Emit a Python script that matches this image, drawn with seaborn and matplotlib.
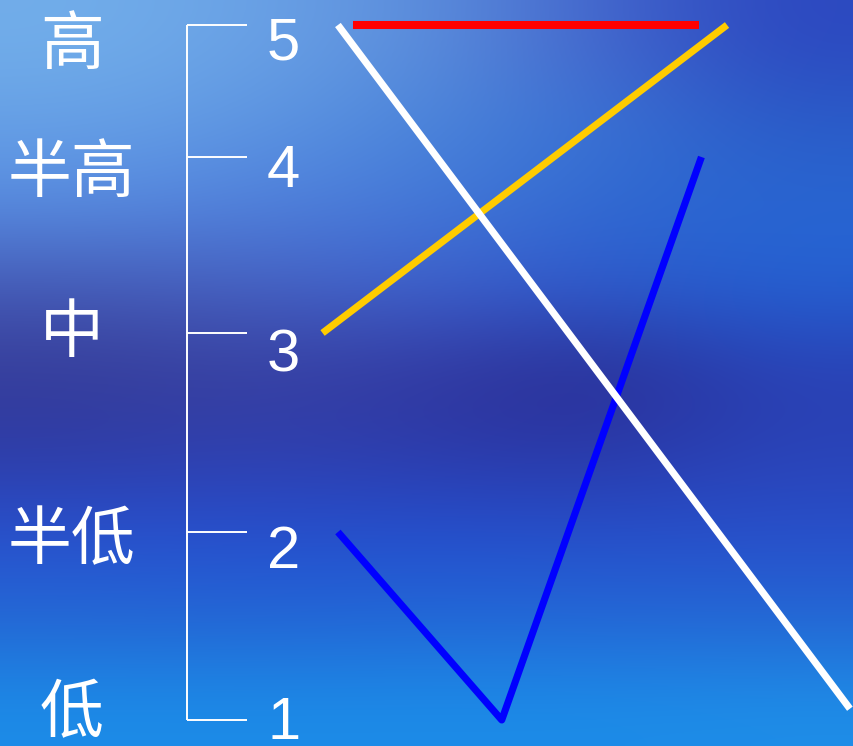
import numpy as np
import pandas as pd
import matplotlib.pyplot as plt
import matplotlib.colors as mcolors
import seaborn as sns

# tone contours (time in % of syllable, pitch level 1-5)
red_t = [3, 70.5]
red_lv = [5, 5]
orange_t = [-3, 76]
orange_lv = [3, 5]
blue_t = [0, 32, 71]
blue_lv = [2, 1, 4]
white_t = [0, 100]
white_lv = [5, 1.06]

levels = [1, 2, 3, 4, 5]
level_names = ["低", "半低", "中", "半高", "高"]

# scale layout: pixel row of each level on the 746 px canvas
level_px = [908, 720, 532, 333, 157, 25, -107]
level_nodes = [0, 1, 2, 3, 4, 5, 6]
name_y = [1.03, 1.955, 2.995, 3.905, 4.845]
digit_y = [0.98, 1.89, 2.885, 3.915, 4.855]

neg_px = [-p for p in level_px]


def fwd(v):
    return np.interp(v, level_nodes, neg_px)


def inv(u):
    return np.interp(u, neg_px, level_nodes)


rows = []
for name, ts, lvs in [("r", red_t, red_lv), ("o", orange_t, orange_lv),
                      ("b", blue_t, blue_lv), ("w", white_t, white_lv)]:
    for t, lv in zip(ts, lvs):
        rows.append({"tone": name, "t": t, "level": lv})
df = pd.DataFrame(rows)

sns.set_theme(style="white")
plt.rcParams["font.family"] = ["Liberation Sans", "Noto Sans CJK SC", "DejaVu Sans"]

fig = plt.figure(figsize=(8.54, 7.46), dpi=100)

# background gradient
bg_cols = [
    ["#72aeea", "#6aa2e6", "#5c8edc", "#4466cc", "#2c48c0"],
    ["#66a0e6", "#5e96e2", "#4a84da", "#3a72d4", "#2a5cc8"],
    ["#568ae0", "#5080dc", "#4478d8", "#3068d0", "#2866d2"],
    ["#4458b4", "#4660c0", "#3e60cc", "#2e58cc", "#2460d2"],
    ["#363c98", "#3840a0", "#3238a0", "#2a2c90", "#2a40b4"],
    ["#2e3ca8", "#3040b0", "#2c3cac", "#2a38a8", "#2a44b8"],
    ["#2852d0", "#2650d0", "#2450d0", "#2650cc", "#2850cc"],
    ["#2468d4", "#2466d4", "#2268d6", "#2468d6", "#2468d4"],
    ["#1c8ce8", "#1c8ce8", "#1c8ce8", "#1c8ce8", "#1e8ee8"],
]
img = np.array([[mcolors.to_rgb(c) for c in row] for row in bg_cols])
bg = fig.add_axes([0, 0, 1, 1])
bg.imshow(img, aspect="auto", interpolation="bicubic", extent=[0, 1, 0, 1])
bg.axis("off")

ax = fig.add_axes([0, 0, 1, 1])
ax.patch.set_alpha(0)
ax.set_yscale("function", functions=(fwd, inv))

sns.lineplot(data=df, x="t", y="level", hue="tone", sort=False, estimator=None,
             palette={"r": "#ff0000", "o": "#ffcc00", "b": "#0000ff", "w": "#ffffff"},
             hue_order=["r", "o", "b", "w"], linewidth=5.1, legend=False, ax=ax)
ax.lines[0].set_linewidth(5.8)
for ln in ax.lines:
    ln.set_solid_capstyle("butt")

# five-level scale bracket
bx, bx2 = -29.5, -17.8
ax.vlines(bx, 1, 5, color="white", lw=1.4)
ax.hlines(levels, bx, bx2, color="white", lw=1.4)
for lv, y in zip(levels, digit_y):
    ax.text(-10.6, y, str(lv), color="white", fontsize=43, ha="center", va="center")
for name, y in zip(level_names, name_y):
    ax.text(-52, y, name, color="white", fontsize=46, ha="center", va="center",
            fontweight="light", family=["Noto Sans CJK SC", "DejaVu Sans"])

ax.set_xlim(-66.0, 100.8)
ax.set_ylim(inv(-746), inv(0))
ax.axis("off")

plt.savefig("out.png", dpi=100)
